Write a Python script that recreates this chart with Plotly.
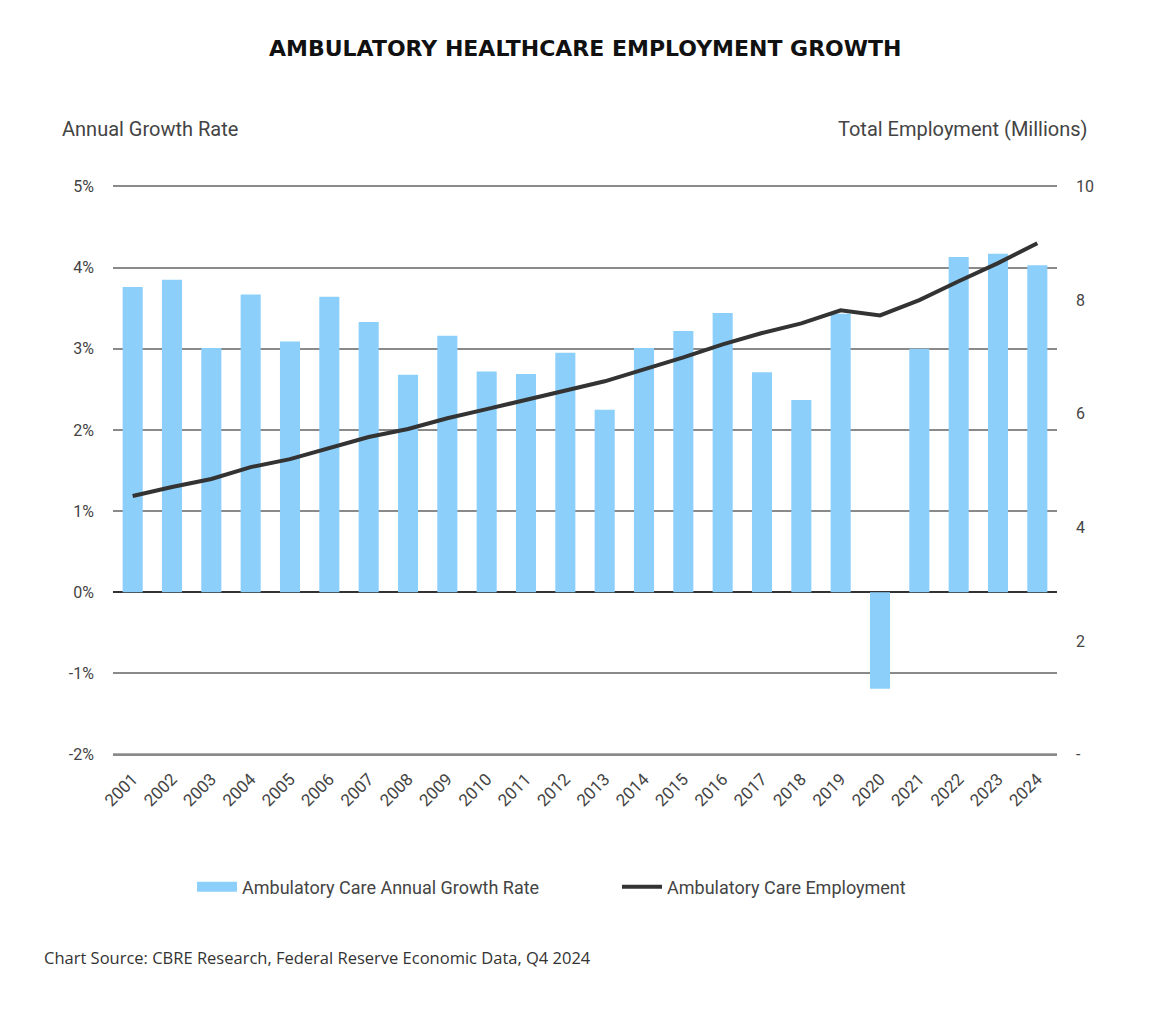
import plotly.graph_objects as go

years = [str(y) for y in range(2001, 2025)]
growth_rate = [3.76, 3.85, 3.01, 3.67, 3.09, 3.64, 3.33, 2.68, 3.16, 2.72, 2.69, 2.95,
               2.25, 3.01, 3.22, 3.44, 2.71, 2.37, 3.43, -1.19, 3.00, 4.13, 4.17, 4.03]
employment = [4.55, 4.71, 4.85, 5.06, 5.20, 5.40, 5.59, 5.73, 5.92, 6.08, 6.24, 6.41,
              6.57, 6.78, 6.99, 7.22, 7.42, 7.59, 7.82, 7.73, 8.00, 8.33, 8.65, 9.00]

left_ticks = [-2, -1, 0, 1, 2, 3, 4, 5]
left_labels = ["-2%", "-1%", "0%", "1%", "2%", "3%", "4%", "5%"]
right_ticks = [0, 2, 4, 6, 8, 10]
right_labels = ["-", "2", "4", "6", "8", "10"]

BAR_COLOR = "#8ccffa"
LINE_COLOR = "#333333"

# page body adds an 8px offset, so the figure is sized to the window minus that
W, H = 1152, 1016
L, R, T, B = 105, 103, 176, 267
plot_w = W - L - R
plot_h = H - T - B
pad = 0.03  # small range padding so the 5% and -2% grid lines get drawn


def px(x, y):
    # screen pixel -> paper coords
    return (x - 8 - L) / plot_w, (H - B - (y - 8)) / plot_h


fig = go.Figure()
fig.add_trace(go.Bar(x=years, y=growth_rate, name="Ambulatory Care Annual Growth Rate",
                     marker=dict(color=BAR_COLOR, line=dict(width=0)), yaxis="y",
                     showlegend=False))
# legend-only entry so the bar swatch is drawn as a wide rectangle
fig.add_trace(go.Scatter(x=[None], y=[None], name="Ambulatory Care Annual Growth Rate",
                         mode="lines", line=dict(color=BAR_COLOR, width=11), yaxis="y"))
fig.add_trace(go.Scatter(x=years, y=employment, name="Ambulatory Care Employment",
                         mode="lines", line=dict(color=LINE_COLOR, width=4), yaxis="y2"))

axis_font = dict(family="Roboto", size=16, color="#444444")
lx, ly = px(192, 887)
fig.update_layout(
    width=W, height=H,
    margin=dict(l=L, r=R, t=T, b=B),
    plot_bgcolor="white", paper_bgcolor="white",
    bargap=0.49,
    showlegend=True,
    legend=dict(orientation="h", x=lx, xanchor="left", y=ly, yanchor="middle",
                font=dict(family="Roboto", size=18, color="#444444"),
                itemwidth=40, entrywidth=370),
    xaxis=dict(type="category", tickangle=-45, tickfont=dict(family="Roboto", size=17, color="#444444"),
               showgrid=False, ticks="", showline=False, ticklabelstandoff=8),
    yaxis=dict(range=[-2 - pad, 5 + pad], tickvals=left_ticks, ticktext=left_labels,
               tickfont=axis_font, showgrid=True, gridcolor="#8a8a8a", gridwidth=1.5,
               zeroline=True, zerolinecolor="#333333", zerolinewidth=2, ticklabelstandoff=18),
    yaxis2=dict(range=[-pad / 7 * 10, 10 + pad / 7 * 10], overlaying="y", side="right",
                tickvals=right_ticks, ticktext=right_labels, tickfont=axis_font,
                showgrid=False, zeroline=False, ticklabelstandoff=18),
)

# darker baseline at -2%
fig.add_shape(type="line", xref="paper", yref="y", x0=0, x1=1, y0=-2, y1=-2,
              line=dict(color="#555555", width=2), layer="below")

tx, ty = px(585, 48)
ax1, ay1 = px(60, 129)
ax2, ay2 = px(1090, 129)
sx, sy = px(42, 957)
fig.add_annotation(text="<b>AMBULATORY HEALTHCARE EMPLOYMENT GROWTH</b>", x=tx, y=ty,
                   xref="paper", yref="paper", showarrow=False, yanchor="middle",
                   font=dict(family="DejaVu Sans", size=22, color="#111111"))
fig.add_annotation(text="Annual Growth Rate", x=ax1, y=ay1, xref="paper", yref="paper",
                   showarrow=False, xanchor="left", yanchor="middle",
                   font=dict(family="Roboto", size=20, color="#444444"))
fig.add_annotation(text="Total Employment (Millions)", x=ax2, y=ay2, xref="paper", yref="paper",
                   showarrow=False, xanchor="right", yanchor="middle",
                   font=dict(family="Roboto", size=20, color="#444444"))
fig.add_annotation(text="Chart Source: CBRE Research, Federal Reserve Economic Data, Q4 2024",
                   x=sx, y=sy, xref="paper", yref="paper", showarrow=False,
                   xanchor="left", yanchor="middle",
                   font=dict(family="Open Sans", size=16.5, color="#333333"))

fig.write_html("out.html")
